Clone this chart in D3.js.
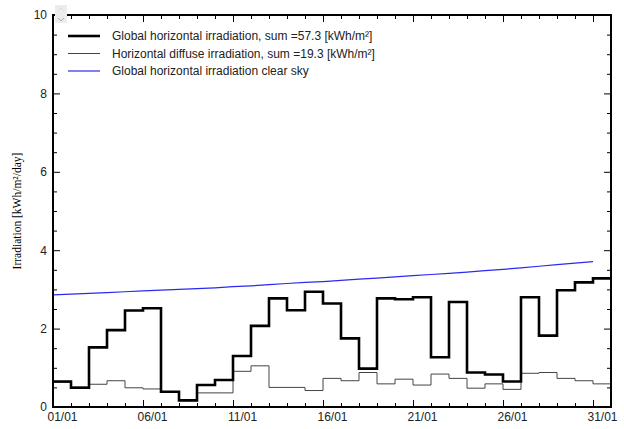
<!DOCTYPE html>
<html>
<head>
<meta charset="utf-8">
<script src="https://cdn.jsdelivr.net/npm/d3@7"></script>
<style>
  body { margin: 0; background: #fff; }
  svg { display: block; font-family: "Liberation Sans", Arial, sans-serif; }
</style>
</head>
<body>
<div id="chart"></div>
<script>
// Daily values, January
var dayLabels = ["01/01", "06/01", "11/01", "16/01", "21/01", "26/01", "31/01"];
var labelDays = [1, 6, 11, 16, 21, 26, 31];

var globalIrr = [0.65, 0.49, 1.52, 1.96, 2.46, 2.52, 0.39, 0.17, 0.56, 0.69,
                 1.30, 2.07, 2.77, 2.47, 2.94, 2.64, 1.75, 0.98, 2.77, 2.75,
                 2.80, 1.27, 2.68, 0.88, 0.83, 0.65, 2.80, 1.82, 2.98, 3.18, 3.28];

var diffuseIrr = [0.63, 0.51, 0.58, 0.67, 0.49, 0.46, 0.38, 0.16, 0.36, 0.36,
                  0.91, 1.05, 0.50, 0.50, 0.42, 0.73, 0.67, 0.88, 0.59, 0.71,
                  0.56, 0.84, 0.73, 0.48, 0.59, 0.45, 0.86, 0.88, 0.73, 0.67, 0.59];

var clearSky = [2.86, 2.88, 2.90, 2.92, 2.94, 2.96, 2.98, 3.00, 3.02, 3.04,
                3.07, 3.09, 3.12, 3.15, 3.18, 3.20, 3.23, 3.26, 3.29, 3.32,
                3.35, 3.38, 3.41, 3.44, 3.48, 3.51, 3.55, 3.59, 3.63, 3.67, 3.71];

var legendLabels = [
  "Global horizontal irradiation, sum =57.3 [kWh/m\u00b2]",
  "Horizontal diffuse irradiation, sum =19.3 [kWh/m\u00b2]",
  "Global horizontal irradiation clear sky"
];
var yMajor = [0, 2, 4, 6, 8, 10];

var width = 624, height = 429;
var margin = { top: 15, right: 13, bottom: 22, left: 53 };

var svg = d3.select("#chart").append("svg")
  .attr("width", width)
  .attr("height", height);

var x = d3.scaleLinear().domain([0, 31]).range([margin.left, width - margin.right]);
var y = d3.scaleLinear().domain([0, 10]).range([height - margin.bottom, margin.top]);

var yMinor = d3.range(0.5, 10, 0.5).filter(function(v) { return yMajor.indexOf(v) < 0; });
var dayBounds = d3.range(0, 32);
var xMajor = dayBounds.filter(function(d) { return d % 5 === 0; });
var xMinor = dayBounds.filter(function(d) { return d % 5 !== 0; });

function styleAxis(g) {
  g.select(".domain").remove();
  g.selectAll("line").attr("stroke", "#000");
  g.selectAll("text").attr("font-size", "12px").attr("fill", "#222")
    .attr("font-family", "Liberation Sans, Arial, sans-serif");
}

// left axis
svg.append("g").attr("transform", "translate(" + margin.left + ",0)")
  .call(d3.axisLeft(y).tickValues(yMajor).tickSizeInner(-7).tickSizeOuter(0).tickPadding(6))
  .call(styleAxis);
svg.append("g").attr("transform", "translate(" + margin.left + ",0)")
  .call(d3.axisLeft(y).tickValues(yMinor).tickSize(-4).tickFormat(""))
  .call(styleAxis);

// right axis ticks
svg.append("g").attr("transform", "translate(" + (width - margin.right) + ",0)")
  .call(d3.axisRight(y).tickValues(yMajor).tickSize(-7).tickFormat(""))
  .call(styleAxis);
svg.append("g").attr("transform", "translate(" + (width - margin.right) + ",0)")
  .call(d3.axisRight(y).tickValues(yMinor).tickSize(-4).tickFormat(""))
  .call(styleAxis);

// bottom ticks
var bottomY = height - margin.bottom;
svg.append("g").attr("transform", "translate(0," + bottomY + ")")
  .call(d3.axisBottom(x).tickValues(xMajor).tickSize(-7).tickFormat(""))
  .call(styleAxis);
svg.append("g").attr("transform", "translate(0," + bottomY + ")")
  .call(d3.axisBottom(x).tickValues(xMinor).tickSize(-4).tickFormat(""))
  .call(styleAxis);
// bottom labels, centred on each day
svg.append("g").attr("transform", "translate(0," + bottomY + ")")
  .call(d3.axisBottom(x).tickValues(labelDays.map(function(d) { return d - 0.5; }))
    .tickSize(0).tickPadding(5)
    .tickFormat(function(d, i) { return dayLabels[i]; }))
  .call(styleAxis);

// top ticks
svg.append("g").attr("transform", "translate(0," + margin.top + ")")
  .call(d3.axisTop(x).tickValues(xMajor).tickSize(-7).tickFormat(""))
  .call(styleAxis);
svg.append("g").attr("transform", "translate(0," + margin.top + ")")
  .call(d3.axisTop(x).tickValues(xMinor).tickSize(-4).tickFormat(""))
  .call(styleAxis);

// step lines
var step = d3.line()
  .x(function(d) { return x(d[0]); })
  .y(function(d) { return y(d[1]); })
  .curve(d3.curveStepAfter);

function stepPoints(vals) {
  var pts = vals.map(function(v, i) { return [i, v]; });
  pts.push([vals.length, vals[vals.length - 1]]);
  return pts;
}

var smooth = d3.line()
  .x(function(d, i) { return x(i); })
  .y(function(d) { return y(d); });

svg.append("path")
  .attr("d", smooth(clearSky))
  .attr("fill", "none")
  .attr("stroke", "#2a2af0")
  .attr("stroke-width", 1.2);

svg.append("path")
  .attr("d", step(stepPoints(diffuseIrr)))
  .attr("fill", "none")
  .attr("stroke", "#444")
  .attr("stroke-width", 1);

svg.append("path")
  .attr("d", step(stepPoints(globalIrr)))
  .attr("fill", "none")
  .attr("stroke", "#000")
  .attr("stroke-width", 2.6);

// frame
svg.append("rect")
  .attr("x", margin.left)
  .attr("y", margin.top)
  .attr("width", width - margin.right - margin.left)
  .attr("height", height - margin.bottom - margin.top)
  .attr("fill", "none")
  .attr("stroke", "#000")
  .attr("stroke-width", 2);

// small dropdown widget in the corner
var widget = svg.append("g").attr("transform", "translate(55,5)");
widget.append("rect").attr("width", 12).attr("height", 18).attr("fill", "#ececec");
widget.append("path").attr("d", "M3,13 L6,16 L9,13").attr("fill", "none").attr("stroke", "#aaa");
widget.append("path").attr("d", "M3,6 L6,3 L9,6").attr("fill", "none").attr("stroke", "#ddd");

// legend
var legendWidths = [2.6, 1, 1.2];
var legendColors = ["#000", "#444", "#2a2af0"];
var legend = svg.append("g");
legendLabels.forEach(function(t, i) {
  var ly = 36 + i * 17.5;
  legend.append("line")
    .attr("x1", 68).attr("x2", 100)
    .attr("y1", ly).attr("y2", ly)
    .attr("stroke", legendColors[i])
    .attr("stroke-width", legendWidths[i]);
  legend.append("text")
    .attr("x", 112).attr("y", ly + 4)
    .attr("font-size", "12px")
    .attr("fill", "#222")
    .text(t);
});

// y label
svg.append("text")
  .attr("transform", "translate(21," + y(5) + ") rotate(-90)")
  .attr("text-anchor", "middle")
  .attr("font-family", "Liberation Serif, Times New Roman, serif")
  .attr("font-size", "11.5px")
  .attr("fill", "#000")
  .text("Irradiation [kWh/m\u00b2/day]");
</script>
</body>
</html>
